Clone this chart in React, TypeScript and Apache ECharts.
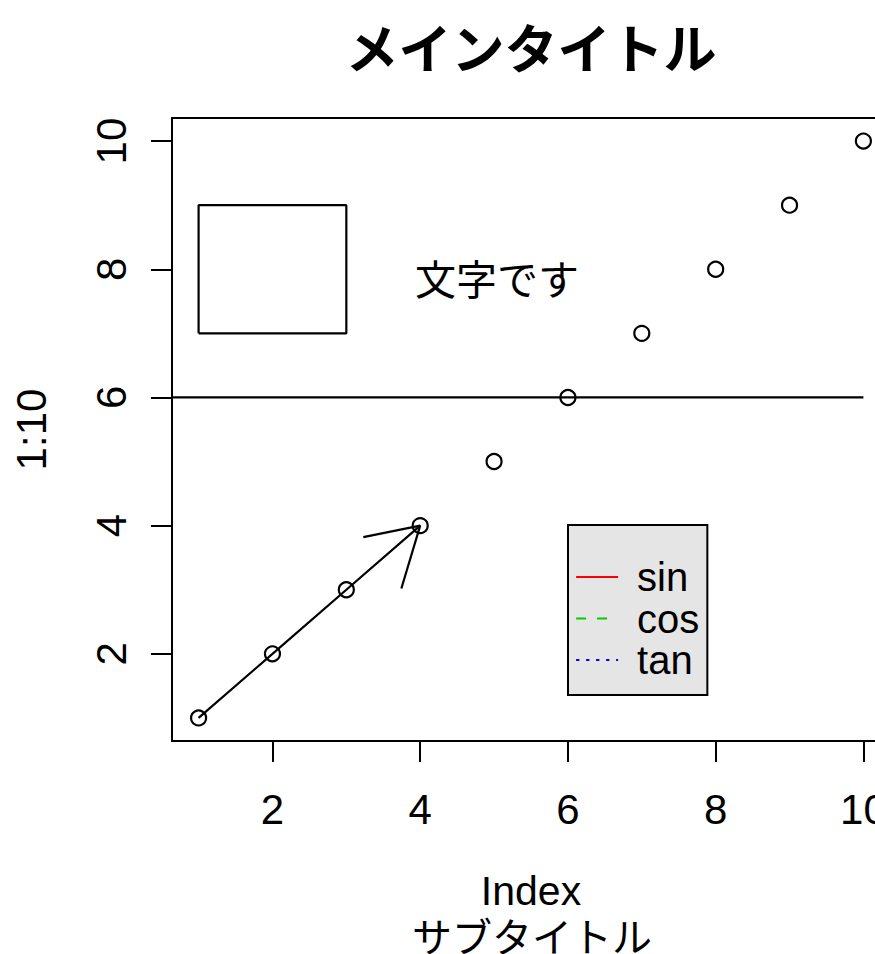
import React, { useEffect, useRef } from "react";
import * as echarts from "echarts";

const xValues = [1, 2, 3, 4, 5, 6, 7, 8, 9, 10];
const yValues = [1, 2, 3, 4, 5, 6, 7, 8, 9, 10];
const xTicks = [2, 4, 6, 8, 10];
const yTicks = [2, 4, 6, 8, 10];
const lineX = [1, 2, 3, 4];
const lineY = [1, 2, 3, 4];
const arrowHead = [
  [3.23, 3.82],
  [4, 4],
  [3.745, 3.02],
];
const rectCorners = [
  [1, 7],
  [3, 7],
  [3, 9],
  [1, 9],
  [1, 7],
];
const hLine = [
  [0.64, 6],
  [10, 6],
];
const textPoint = [5, 8];
const textLabel = "文字です";
const legendNames = ["sin", "cos", "tan"];
const legendColors = ["#ff0000", "#00cd00", "#0000ff"];
const legendTypes: any[] = ["solid", [10, 11], [3.3, 6.7]];
const mainTitle = "メインタイトル";
const subTitle = "サブタイトル";
const xName = "Index";
const yName = "1:10";

const LATIN = "'Liberation Sans Narrow', 'Liberation Sans', Arial, sans-serif";
const CJK = "'Noto Sans CJK JP', sans-serif";

export default function App() {
  const ref = useRef<HTMLDivElement>(null);
  useEffect(() => {
    document.body.style.margin = "0";
    const chart = echarts.init(ref.current!, null, { renderer: "svg" });
    const black = "#000";
    const option: any = {
      animation: false,
      backgroundColor: "#fff",
      title: [
        {
          text: mainTitle,
          left: 526,
          top: 14,
          textAlign: "center",
          textStyle: { fontFamily: CJK, fontWeight: "bold", fontSize: 53, lineHeight: 54, color: black },
        },
        {
          text: subTitle,
          left: 532,
          top: 916,
          padding: 0,
          textAlign: "center",
          textStyle: { fontFamily: CJK, fontWeight: "normal", fontSize: 40, lineHeight: 38, color: black },
        },
      ],
      grid: {
        left: 172,
        top: 118,
        width: 718,
        height: 623,
        show: true,
        borderColor: black,
        borderWidth: 2,
        containLabel: false,
      },
      xAxis: {
        type: "value",
        min: 0.64,
        max: 10.36,
        splitLine: { show: false },
        axisLine: { show: true, onZero: false, lineStyle: { color: black, width: 2 } },
        axisTick: { show: true, customValues: xTicks, length: 21, lineStyle: { color: black, width: 2 } },
        axisLabel: { customValues: xTicks, fontSize: 42, color: black, fontFamily: LATIN, margin: 47 },
        name: xName,
        nameLocation: "middle",
        nameGap: 133,
        nameTextStyle: { fontSize: 41, lineHeight: 34, color: black, fontFamily: LATIN },
      },
      yAxis: {
        type: "value",
        min: 0.64,
        max: 10.36,
        splitLine: { show: false },
        axisLine: { show: true, onZero: false, lineStyle: { color: black, width: 2 } },
        axisTick: { show: true, customValues: yTicks, length: 21, lineStyle: { color: black, width: 2 } },
        axisLabel: { customValues: yTicks, fontSize: 42, color: black, fontFamily: LATIN, margin: 40, rotate: 90 },
        name: yName,
        nameLocation: "middle",
        nameGap: 120,
        nameRotate: 90,
        nameTextStyle: { fontSize: 42, color: black, fontFamily: LATIN },
      },
      legend: {
        data: legendNames,
        orient: "vertical",
        left: 568,
        top: 525,
        itemWidth: 42,
        itemHeight: 14,
        itemGap: 1.5,
        backgroundColor: "#e5e5e5",
        borderColor: black,
        borderWidth: 2,
        borderRadius: 0,
        padding: [32, 8, 15, 7],
        selectedMode: false,
        itemStyle: { opacity: 0 },
        lineStyle: { width: 2.2 },
        textStyle: { fontSize: 40, fontFamily: LATIN, color: black, padding: [0, 0, 0, 14] },
      },
      series: [
        {
          type: "scatter",
          data: xValues.map((x, i) => [x, yValues[i]]),
          symbol: "circle",
          symbolSize: 15,
          itemStyle: { color: "rgba(0,0,0,0)", borderColor: black, borderWidth: 2.2, opacity: 1 },
          z: 5,
        },
        {
          type: "line",
          data: lineX.map((x, i) => [x, lineY[i]]),
          symbol: "none",
          lineStyle: { color: black, width: 2.2 },
        },
        {
          type: "line",
          data: arrowHead,
          symbol: "none",
          lineStyle: { color: black, width: 2.2 },
        },
        {
          type: "line",
          data: rectCorners,
          symbol: "none",
          lineStyle: { color: black, width: 2.2 },
        },
        {
          type: "line",
          data: hLine,
          symbol: "none",
          lineStyle: { color: black, width: 2.2 },
        },
        {
          type: "scatter",
          data: [textPoint],
          symbolSize: 1,
          itemStyle: { color: "rgba(0,0,0,0)", opacity: 1 },
          label: {
            show: true,
            position: "inside",
            formatter: textLabel,
            fontSize: 41,
            fontFamily: CJK,
            color: black,
            opacity: 1,
            offset: [3, 8],
          },
        },
        ...legendNames.map((name, i) => ({
          type: "line",
          name,
          data: [],
          symbol: "none",
          lineStyle: { color: legendColors[i], width: 2.2, type: legendTypes[i] },
          itemStyle: { color: legendColors[i] },
        })),
      ],
    };
    chart.setOption(option);
    return () => chart.dispose();
  }, []);
  return (
    <div style={{ width: 875, height: 954, overflow: "hidden", position: "relative" }}>
      <div ref={ref} style={{ width: 910, height: 954 }} />
    </div>
  );
}
